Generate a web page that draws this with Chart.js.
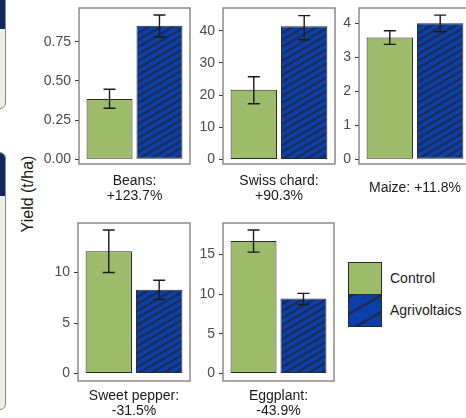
<!DOCTYPE html>
<html>
<head>
<meta charset="utf-8">
<script src="https://cdn.jsdelivr.net/npm/chart.js@4.4.1/dist/chart.umd.min.js"></script>
<style>
  html, body { margin: 0; padding: 0; background: #fff; }
  body { width: 466px; height: 418px; overflow: hidden; position: relative; font-family: 'Liberation Sans', Arial, sans-serif; }
  .panel { position: absolute; }
  .ytitle { position: absolute; left: 28px; top: 194px; transform: translate(-50%, -50%) rotate(-90deg); white-space: nowrap; font-size: 16px; color: #1a1a1a; }
  .legtext { position: absolute; left: 390px; font-size: 14px; line-height: 16px; color: #1a1a1a; }
  .deco { position: absolute; left: -10px; width: 14px; border: 1.2px solid #8a8a8a; background: #eef0e8; overflow: hidden; }
  .deco div { background: #0b2a5e; width: 100%; }
</style>
</head>
<body>
<div class="deco" style="top:-12px;height:119px;border-radius:0 0 6px 0;"><div style="height:40px"></div></div>
<div class="deco" style="top:152px;height:256px;border-radius:0 6px 6px 0;"><div style="height:43px"></div></div>

<div class="ytitle">Yield (t/ha)</div>
<canvas id="legend" class="panel" style="left:348px;top:262px" width="34" height="65"></canvas>
<div class="legtext" style="top:270px">Control</div>
<div class="legtext" style="top:302px">Agrivoltaics</div>

<script>
// data
const crops = ['Beans', 'Swiss chard', 'Maize', 'Sweet pepper', 'Eggplant'];
const changes = ['+123.7%', '+90.3%', '+11.8%', '-31.5%', '-43.9%'];
const controlMean = [0.385, 21.7, 3.58, 12.1, 16.7];
const controlLow  = [0.326, 17.3, 3.38, 10.0, 15.3];
const controlHigh = [0.447, 25.7, 3.78, 14.2, 18.1];
const agriMean = [0.852, 41.4, 4.0, 8.3, 9.45];
const agriLow  = [0.78, 37.2, 3.75, 7.33, 8.7];
const agriHigh = [0.92, 44.7, 4.24, 9.24, 10.1];
const yTicks = [[0, 0.25, 0.5, 0.75], [0, 10, 20, 30, 40], [0, 1, 2, 3, 4], [0, 5, 10], [0, 5, 10, 15]];
const tickDecimals = [2, 0, 0, 0, 0];
const yRange = [[-0.030, 0.965], [-1.4, 47.06], [-0.138, 4.45], [-0.74, 14.9], [-0.95, 18.98]];

// panel frames (page pixels)
const frames = [
  { left: 79, top: 8, w: 111, h: 156, pb: 0 },
  { left: 223, top: 7.5, w: 112, h: 156.5, pb: 0 },
  { left: 359, top: 8, w: 112, h: 156, pb: 8 },
  { left: 78, top: 223, w: 112, h: 158, pb: 2.5 },
  { left: 223, top: 223, w: 111, h: 158, pb: 2.5 }
];

const GREEN = '#9cbc6c';
const BLUE = '#0b40aa';
const STRIPE = '#1e2b50';
const YW = 50, XH = 40, TOP = 6, RIGHT = 2;

function drawStripes(g, x, y, w, h, gap, lw) {
  g.save();
  g.beginPath(); g.rect(x, y, w, h); g.clip();
  g.fillStyle = BLUE; g.fillRect(x, y, w, h);
  g.strokeStyle = STRIPE; g.lineWidth = lw;
  const rise = w * Math.tan(Math.PI / 6);
  for (let y0 = y + 3; y0 < y + h + rise + gap; y0 += gap) {
    g.beginPath(); g.moveTo(x, y0); g.lineTo(x + w, y0 - rise); g.stroke();
  }
  g.restore();
}

const patCanvas = document.createElement('canvas');
patCanvas.width = 300; patCanvas.height = 300;
const patCtx = patCanvas.getContext('2d');
drawStripes(patCtx, 0, 0, 300, 300, 7, 2.2);
const stripePattern = patCtx.createPattern(patCanvas, 'repeat');

const framePlugin = {
  id: 'frame',
  afterDraw(chart) {
    const { ctx, chartArea: a } = chart;
    ctx.save();
    ctx.strokeStyle = '#7a7a7a';
    ctx.lineWidth = 1.3;
    ctx.strokeRect(a.left, a.top, a.right - a.left, a.bottom - a.top);
    ctx.restore();
  }
};

const errorBars = {
  id: 'errorBars',
  afterDatasetsDraw(chart) {
    const { ctx, scales: { y } } = chart;
    ctx.save();
    ctx.strokeStyle = '#1a1a1a';
    ctx.lineWidth = 1.4;
    chart.data.datasets.forEach((ds, i) => {
      chart.getDatasetMeta(i).data.forEach((bar, j) => {
        const top = y.getPixelForValue(ds.errHigh[j]);
        const bot = y.getPixelForValue(ds.errLow[j]);
        ctx.beginPath();
        ctx.moveTo(bar.x, top); ctx.lineTo(bar.x, bot);
        ctx.moveTo(bar.x - 6, top); ctx.lineTo(bar.x + 6, top);
        ctx.moveTo(bar.x - 6, bot); ctx.lineTo(bar.x + 6, bot);
        ctx.stroke();
      });
    });
    ctx.restore();
  }
};

crops.forEach((crop, i) => {
  const f = frames[i];
  const cv = document.createElement('canvas');
  cv.className = 'panel';
  const W = YW + f.w + RIGHT, H = TOP + f.h + XH;
  cv.width = W; cv.height = H;
  cv.style.left = (f.left - YW) + 'px';
  cv.style.top = (f.top - TOP) + 'px';
  cv.style.width = W + 'px';
  cv.style.height = H + 'px';
  document.body.appendChild(cv);

  const title = crop === 'Maize' ? crop + ': ' + changes[i] : [crop + ':', changes[i]];

  new Chart(cv, {
    type: 'bar',
    data: {
      labels: [crop],
      datasets: [
        {
          label: 'Control',
          data: [controlMean[i]],
          errLow: [controlLow[i]],
          errHigh: [controlHigh[i]],
          backgroundColor: GREEN,
          borderColor: '#2a2a2a',
          borderWidth: 1,
          borderSkipped: false
        },
        {
          label: 'Agrivoltaics',
          data: [agriMean[i]],
          errLow: [agriLow[i]],
          errHigh: [agriHigh[i]],
          backgroundColor: stripePattern,
          borderColor: '#2a2a2a',
          borderWidth: 1,
          borderSkipped: false
        }
      ]
    },
    options: {
      responsive: false,
      animation: false,
      devicePixelRatio: 1,
      categoryPercentage: 0.9,
      barPercentage: 0.92,
      layout: { padding: { top: TOP, right: RIGHT, left: 0, bottom: 0 } },
      plugins: { legend: { display: false }, tooltip: { enabled: false } },
      scales: {
        x: {
          ticks: { display: false },
          grid: { display: false },
          border: { display: false },
          title: {
            display: true,
            text: title,
            color: '#1a1a1a',
            font: { family: "'Liberation Sans', Arial, sans-serif", size: 14, lineHeight: '15px' },
            padding: { top: 0, bottom: f.pb }
          },
          afterFit(s) { s.height = XH; s.paddingLeft = 0; s.paddingRight = 0; }
        },
        y: {
          min: yRange[i][0],
          max: yRange[i][1],
          afterBuildTicks(s) { s.ticks = yTicks[i].map(v => ({ value: v })); },
          ticks: {
            color: '#4d4d4d',
            padding: 4,
            font: { family: "'Liberation Sans', Arial, sans-serif", size: 14 },
            callback: v => Number(v).toFixed(tickDecimals[i])
          },
          grid: { display: true, drawOnChartArea: false, drawTicks: true, tickLength: 4, color: '#333', lineWidth: 1 },
          border: { display: false },
          afterFit(s) { s.width = YW; s.paddingTop = 0; s.paddingBottom = 0; }
        }
      }
    },
    plugins: [errorBars, framePlugin]
  });
});

// legend swatches
const lg = document.getElementById('legend').getContext('2d');
lg.fillStyle = GREEN;
lg.fillRect(0.5, 0.5, 33, 32);
drawStripes(lg, 0.5, 32.5, 33, 32, 16.7, 2.5);
lg.strokeStyle = '#2a2a2a';
lg.lineWidth = 1;
lg.strokeRect(0.5, 0.5, 33, 32);
lg.strokeRect(0.5, 32.5, 33, 32);
</script>
</body>
</html>
